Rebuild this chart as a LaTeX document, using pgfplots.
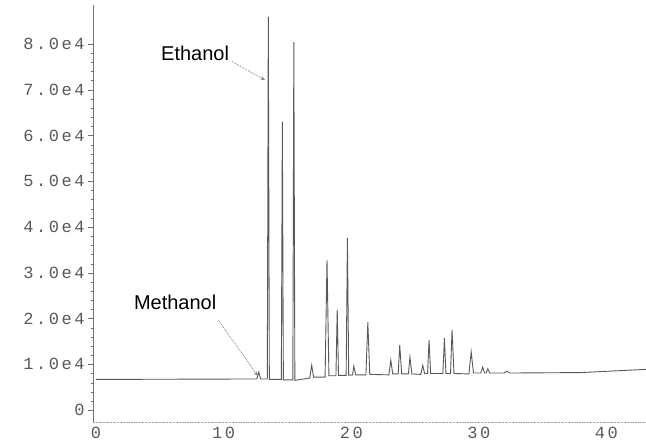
\documentclass[border=0pt]{standalone}
\usepackage{fontspec}
\setmainfont{Liberation Sans}
\newfontfamily\tickfont{Liberation Mono}[LetterSpace=15]
\usepackage{pgfplots}
\pgfplotsset{compat=1.18}
\usetikzlibrary{arrows.meta}
\definecolor{ink}{gray}{0.35}

\begin{document}
\begin{tikzpicture}[x=1pt,y=1pt]
\path[use as bounding box] (0,0) rectangle (646,445);
\begin{axis}[
    at={(93pt,23pt)}, anchor=south west,
    scale only axis,
    width=553pt, height=417pt,
    xmin=-0.24, xmax=43.1,
    ymin=-2600, ymax=88500,
    axis lines=left,
    axis line style={-},
    x axis line style={gray!70, densely dotted},
    y axis line style={black!55},
    xtick={0,10,20,30,40},
    xticklabels={0,10,20,30,40},
    ytick={0,10000,20000,30000,40000,50000,60000,70000,80000},
    yticklabels={0,1.0e4,2.0e4,3.0e4,4.0e4,5.0e4,6.0e4,7.0e4,8.0e4},
    minor y tick num=4,
    tick align=outside,
    major tick length=5pt,
    minor tick length=2pt,
    x tick style={draw=none},
    y tick style={black!55},
    ticklabel style={font=\tickfont\fontsize{17}{19}\selectfont, text=ink},
    xticklabel style={yshift=3pt},
    clip=false,
]
\addplot[black!65, line width=0.9pt] coordinates {
    (0,6700) (12.6,6800) (12.75,8300) (12.9,6800)
    (13.42,6800) (13.5,85900) (13.58,6700)
    (14.52,6700) (14.6,63000) (14.68,6600)
    (15.42,6600) (15.5,80400) (15.58,6500)
    (16.75,7000) (16.9,9800) (17.05,7200)
    (17.95,7200) (18.1,32800) (18.25,7500)
    (18.8,7500) (18.9,21900) (19.0,7600)
    (19.6,7600) (19.7,37600) (19.8,7600)
    (20.1,7700) (20.2,9600) (20.35,7700)
    (21.15,7700) (21.3,19200) (21.45,7800)
    (22.95,7700) (23.1,10900) (23.25,7900)
    (23.68,7900) (23.8,14200) (23.95,7900)
    (24.48,7900) (24.6,11600) (24.75,7900)
    (25.45,7800) (25.6,9800) (25.75,8000)
    (25.98,8000) (26.1,15300) (26.22,8000)
    (27.18,8000) (27.3,15700) (27.42,8000)
    (27.78,8000) (27.9,17500) (28.05,8000)
    (29.22,7900) (29.4,12700) (29.58,8100)
    (30.15,8100) (30.3,9400) (30.45,8100)
    (30.58,8100) (30.7,9000) (30.85,8100)
    (32.0,8100) (32.2,8500) (32.4,8100)
    (38,8200) (43.1,8900)
};
\node[font=\fontsize{20}{22}\selectfont] at (axis cs:7.76,78000) {Ethanol};
\draw[gray, densely dotted, line width=0.8pt, -{Stealth[length=5pt]}]
    (axis cs:10.67,76100) -- (axis cs:13.25,72100);
\node[font=\fontsize{20}{22}\selectfont] at (axis cs:6.2,23600) {Methanol};
\draw[gray, densely dotted, line width=0.8pt, -{Stealth[length=5pt]}]
    (axis cs:9.57,19700) -- (axis cs:12.7,7400);
\end{axis}
\end{tikzpicture}
\end{document}
